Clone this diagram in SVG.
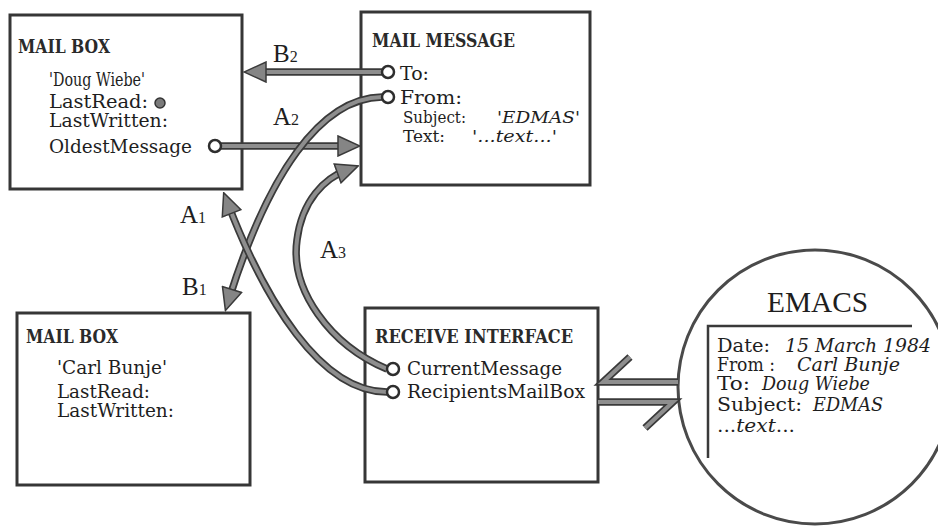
<svg xmlns="http://www.w3.org/2000/svg" width="938" height="527" viewBox="0 0 938 527">
<defs>
<style>
.box{fill:#fff;stroke:#363636;stroke-width:3}
.hd{font-family:"DejaVu Serif","Liberation Serif",serif;font-weight:bold;font-size:18px;fill:#2a2a2a}
.tx{font-family:"DejaVu Serif","Liberation Serif",serif;font-size:18px;fill:#1e1e1e}
.sm{font-size:17px}
.it{font-style:italic}
.lb{font-family:"Liberation Serif","DejaVu Serif",serif;font-size:25px;fill:#1e1e1e}
.sb{font-size:16px}
.bo{fill:none;stroke:#3a3a3a;stroke-width:7.5;stroke-linecap:butt}
.bi{fill:none;stroke:#8e8e8e;stroke-width:4;stroke-linecap:butt}
.port{fill:#fff;stroke:#2e2e2e;stroke-width:2.5}
</style>
<marker id="ah" viewBox="-1 -1 24 22" refX="10" refY="10" markerWidth="24" markerHeight="22" markerUnits="userSpaceOnUse" orient="auto">
<path d="M0,0 L22,10 L0,20 Z" fill="#858585" stroke="#3a3a3a" stroke-width="1.5"/>
</marker>
</defs>
<rect width="938" height="527" fill="#fff"/>

<g id="mailbox-doug">
<rect class="box" x="10" y="15" width="232" height="174"/>
<text class="hd" x="18" y="53" textLength="92" lengthAdjust="spacingAndGlyphs">MAIL BOX</text>
<text class="tx" x="49" y="86" textLength="96" lengthAdjust="spacingAndGlyphs">'Doug Wiebe'</text>
<text class="tx" x="49" y="108" textLength="99" lengthAdjust="spacingAndGlyphs">LastRead:</text>
<circle cx="160" cy="103" r="5" fill="#7a7a7a" stroke="#333" stroke-width="1.5"/>
<text class="tx" x="49" y="127" textLength="119" lengthAdjust="spacingAndGlyphs">LastWritten:</text>
<text class="tx" x="49" y="153" textLength="143" lengthAdjust="spacingAndGlyphs">OldestMessage</text>
</g>

<g id="mail-message">
<rect class="box" x="361" y="12" width="229" height="173"/>
<text class="hd" x="372" y="47" textLength="143" lengthAdjust="spacingAndGlyphs">MAIL MESSAGE</text>
<text class="tx" x="400" y="80" textLength="29" lengthAdjust="spacingAndGlyphs">To:</text>
<text class="tx" x="400" y="104" textLength="62" lengthAdjust="spacingAndGlyphs">From:</text>
<text class="tx sm" x="403" y="123" textLength="63" lengthAdjust="spacingAndGlyphs">Subject:</text>
<text class="tx sm it" x="497" y="123" textLength="83" lengthAdjust="spacingAndGlyphs">'EDMAS'</text>
<text class="tx sm" x="403" y="142" textLength="42" lengthAdjust="spacingAndGlyphs">Text:</text>
<text class="tx sm it" x="472" y="142" textLength="85" lengthAdjust="spacingAndGlyphs">'...text...'</text>
</g>

<g id="mailbox-carl">
<rect class="box" x="17" y="313" width="233" height="172"/>
<text class="hd" x="26" y="343" textLength="92" lengthAdjust="spacingAndGlyphs">MAIL BOX</text>
<text class="tx" x="57" y="374" textLength="110" lengthAdjust="spacingAndGlyphs">'Carl Bunje'</text>
<text class="tx" x="57" y="398" textLength="93" lengthAdjust="spacingAndGlyphs">LastRead:</text>
<text class="tx" x="57" y="417" textLength="117" lengthAdjust="spacingAndGlyphs">LastWritten:</text>
</g>

<g id="receive-interface">
<rect class="box" x="365" y="308" width="233" height="174"/>
<text class="hd" x="375" y="343" textLength="198" lengthAdjust="spacingAndGlyphs">RECEIVE INTERFACE</text>
<text class="tx" x="407" y="375" textLength="155" lengthAdjust="spacingAndGlyphs">CurrentMessage</text>
<text class="tx" x="407" y="398" textLength="178" lengthAdjust="spacingAndGlyphs">RecipientsMailBox</text>
</g>

<g id="emacs">
<circle cx="815" cy="387" r="137" fill="#fff" stroke="#4a4a4a" stroke-width="3"/>
<text x="767" y="312" font-family="Liberation Serif, DejaVu Serif, serif" font-size="30" fill="#1e1e1e" textLength="101" lengthAdjust="spacingAndGlyphs">EMACS</text>
<polyline points="708,458 708,326 912,326" fill="none" stroke="#3a3a3a" stroke-width="2.5"/>
<text class="tx" x="717" y="352" textLength="53" lengthAdjust="spacingAndGlyphs">Date:</text>
<text class="tx it" x="785" y="352" textLength="146" lengthAdjust="spacingAndGlyphs">15 March 1984</text>
<text class="tx" x="717" y="371" textLength="58" lengthAdjust="spacingAndGlyphs">From :</text>
<text class="tx it" x="797" y="371" textLength="103" lengthAdjust="spacingAndGlyphs">Carl Bunje</text>
<text class="tx" x="717" y="390" textLength="33" lengthAdjust="spacingAndGlyphs">To:</text>
<text class="tx it" x="762" y="390" textLength="108" lengthAdjust="spacingAndGlyphs">Doug Wiebe</text>
<text class="tx" x="717" y="411" textLength="85" lengthAdjust="spacingAndGlyphs">Subject:</text>
<text class="tx it" x="813" y="411" textLength="70" lengthAdjust="spacingAndGlyphs">EDMAS</text>
<text class="tx" x="717" y="432" textLength="78" lengthAdjust="spacingAndGlyphs">...<tspan class="it">text</tspan>...</text>
</g>

<g id="connectors">
<g id="B2">
<path class="bo" d="M382,72 L256,72"/>
<path class="bi" d="M382,72 L256,72" marker-end="url(#ah)"/>
</g>
<g id="A2">
<path class="bo" d="M221,146 L348,146"/>
<path class="bi" d="M221,146 L348,146" marker-end="url(#ah)"/>
</g>
<g id="B1">
<path class="bo" d="M382,97 C320,98 268,175 229,299"/>
<path class="bi" d="M382,97 C320,98 268,175 229,299" marker-end="url(#ah)"/>
</g>
<g id="A1">
<path class="bo" d="M387,392 C320,392 265,300 228,204"/>
<path class="bi" d="M387,392 C320,392 265,300 228,204" marker-end="url(#ah)"/>
</g>
<g id="A3">
<path class="bo" d="M387,369 C330,345 290,290 297,240 C302,200 325,178 347,170"/>
<path class="bi" d="M387,369 C330,345 290,290 297,240 C302,200 325,178 347,170" marker-end="url(#ah)"/>
</g>
<g id="emacs-in">
<path class="bo" d="M630,357 L603,382 L678,382"/>
<path class="bi" d="M630,357 L603,382 L678,382"/>
</g>
<g id="emacs-out">
<path class="bo" d="M598,402 L673,402 L645,428"/>
<path class="bi" d="M598,402 L673,402 L645,428"/>
</g>
<circle class="port" cx="388" cy="72" r="6"/>
<circle class="port" cx="388" cy="97" r="6"/>
<circle class="port" cx="215" cy="146" r="6"/>
<circle class="port" cx="393" cy="369" r="6"/>
<circle class="port" cx="393" cy="392" r="6"/>
</g>

<g id="labels">
<text class="lb" x="273" y="62">B<tspan class="sb">2</tspan></text>
<text class="lb" x="273" y="125">A<tspan class="sb">2</tspan></text>
<text class="lb" x="180" y="223">A<tspan class="sb">1</tspan></text>
<text class="lb" x="182" y="295">B<tspan class="sb">1</tspan></text>
<text class="lb" x="320" y="258">A<tspan class="sb">3</tspan></text>
</g>
</svg>
